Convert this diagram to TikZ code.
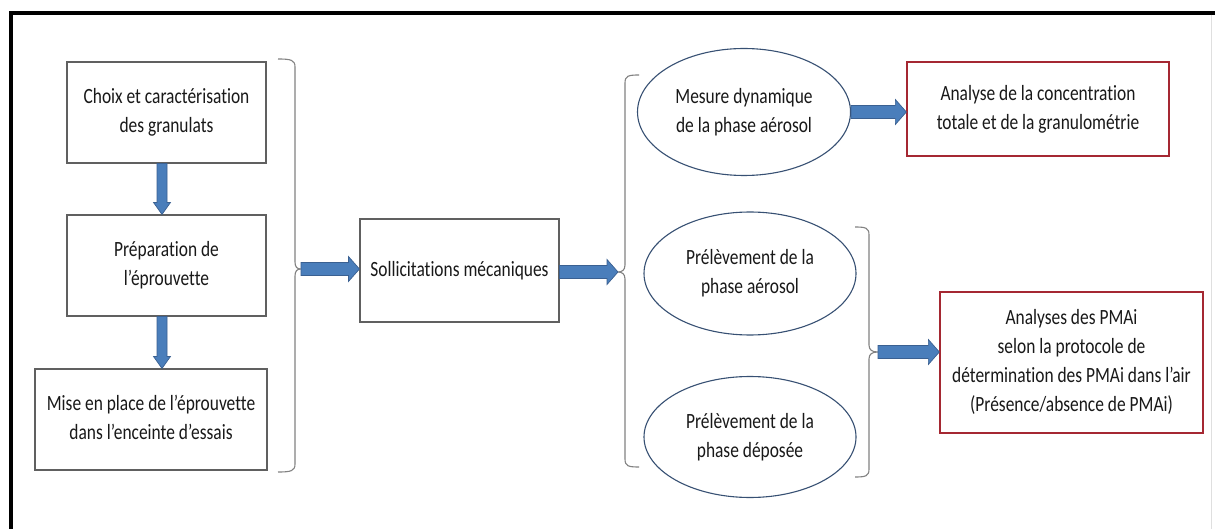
\documentclass[tikz,border=0pt]{standalone}
\usepackage{graphicx}
\usepackage{fontspec}
\setmainfont{Carlito}[Ligatures=CommonOff]
\usetikzlibrary{calc,shapes.geometric}
\definecolor{arrowfill}{RGB}{74,126,187}
\definecolor{arrowline}{RGB}{58,96,145}
\definecolor{boxline}{RGB}{96,96,96}
\definecolor{redline}{RGB}{165,40,50}
\definecolor{ellline}{RGB}{55,80,115}
\definecolor{braceline}{RGB}{130,130,130}
\definecolor{txt}{RGB}{25,25,25}
% text lines, slightly stretched vertically like the reference
\newcommand\tx[1]{\scalebox{1}[1.25]{\begin{tabular}{@{}c@{}}#1\end{tabular}}}
% horizontal block arrow: from #1 (its y is used) to the x of #2
\newcommand\harrow[2]{\path[blockarrow] let \p1=#1, \p2=#2 in
  (\x1,\y1+6.5pt) -- (\x2-11pt,\y1+6.5pt) -- (\x2-11pt,\y1+12.5pt) -- (\x2,\y1)
  -- (\x2-11pt,\y1-12.5pt) -- (\x2-11pt,\y1-6.5pt) -- (\x1,\y1-6.5pt) -- cycle;}
% vertical block arrow (downwards): from #1 (its x is used) to the y of #2
\newcommand\varrow[2]{\path[blockarrow] let \p1=#1, \p2=#2 in
  (\x1-5pt,\y1) -- (\x1-5pt,\y2+12pt) -- (\x1-8.5pt,\y2+12pt) -- (\x1,\y2)
  -- (\x1+8.5pt,\y2+12pt) -- (\x1+5pt,\y2+12pt) -- (\x1+5pt,\y1) -- cycle;}
\begin{document}
\begin{tikzpicture}[x=1pt,y=-1pt,
  txtfont/.style={font=\fontsize{17.4}{23.2}\selectfont, text=txt, align=center},
  box/.style={draw=boxline, line width=1.1pt, rectangle, inner sep=0pt, txtfont},
  redbox/.style={draw=redline, line width=1.3pt, rectangle, inner sep=0pt, txtfont},
  oval/.style={draw=ellline, line width=1.1pt, ellipse, inner sep=0pt, txtfont},
  bracepath/.style={draw=braceline, line width=1.1pt},
  blockarrow/.style={fill=arrowfill, draw=arrowline, line width=0.7pt, line join=miter},
  frameline/.style={draw=black, line width=4pt}]
\useasboundingbox (0,0) rectangle (1215,529);
\clip (0,0) rectangle (1215,529);
\fill[white] (0,0) rectangle (1215,529);
\draw[frameline] (11,560) -- (11,13) -- (1260,13);
\draw[gray!25, line width=0.8pt] (1211,15) -- (1211,529);

% left column
\node[box, minimum width=199pt, minimum height=101pt] (b1) at (166.5,112.5)
  {\tx{Choix et caractérisation\\des granulats}};
\node[box, minimum width=199pt, minimum height=101pt] (b2) at (166.5,265.5)
  {\tx{Préparation de\\l’éprouvette}};
\node[box, minimum width=232pt, minimum height=101pt] (b3) at (151,419.5)
  {\tx{Mise en place de l’éprouvette\\dans l’enceinte d’essais}};

% middle
\node[box, minimum width=199pt, minimum height=103pt] (s) at (459.5,270.5)
  {\tx{Sollicitations mécaniques}};

% ellipses
\node[oval, minimum width=213pt, minimum height=127pt] (e1) at (744,112)
  {\tx{Mesure dynamique\\de la phase aérosol}};
\node[oval, minimum width=212pt, minimum height=123pt] (e2) at (750,273.5)
  {\tx{Prélèvement de la\\phase aérosol}};
\node[oval, minimum width=212pt, minimum height=121pt] (e3) at (750,437)
  {\tx{Prélèvement de la\\phase déposée}};

% right boxes
\node[redbox, minimum width=262pt, minimum height=94pt] (r1) at (1038,109)
  {\tx{Analyse de la concentration\\totale et de la granulométrie}};
\node[redbox, minimum width=263pt, minimum height=141pt] (r2) at (1071.5,362.5)
  {\tx{Analyses des PMAi\\selon la protocole de\\détermination des PMAi dans l’air\\(Présence/absence de PMAi)}};

% braces
\coordinate (t1) at (301,269);
\coordinate (t2) at (618,272);
\coordinate (t3) at (878,352);
\path[bracepath] (278,59) .. controls (291,59) and (295,60) .. (295,67) -- (295,262)
  .. controls (295,267) and (297,269) .. (t1) .. controls (297,269) and (295,271) .. (295,276)
  -- (295,464) .. controls (295,471) and (291,472) .. (278,472);
\path[bracepath] (639,75) .. controls (628,75) and (625,76) .. (625,83) -- (625,265)
  .. controls (625,270) and (622,272) .. (t2) .. controls (622,272) and (625,274) .. (625,279)
  -- (625,459) .. controls (625,466) and (628,467) .. (639,467);
\path[bracepath] (855,227) .. controls (866,227) and (869,228) .. (869,235) -- (869,345)
  .. controls (869,350) and (872,352) .. (t3) .. controls (872,352) and (869,354) .. (869,359)
  -- (869,469) .. controls (869,476) and (866,477) .. (855,477);

% block arrows
\varrow{([xshift=-4.5pt]b1.south)}{(b2.north)}
\varrow{([xshift=-4.5pt]b2.south)}{(b3.north)}
\harrow{(t1)}{(s.west)}
\harrow{([yshift=-1.5pt]s.east)}{(t2)}
\harrow{(e1.east)}{(r1.west)}
\harrow{(t3)}{(r2.west)}
\end{tikzpicture}
\end{document}
